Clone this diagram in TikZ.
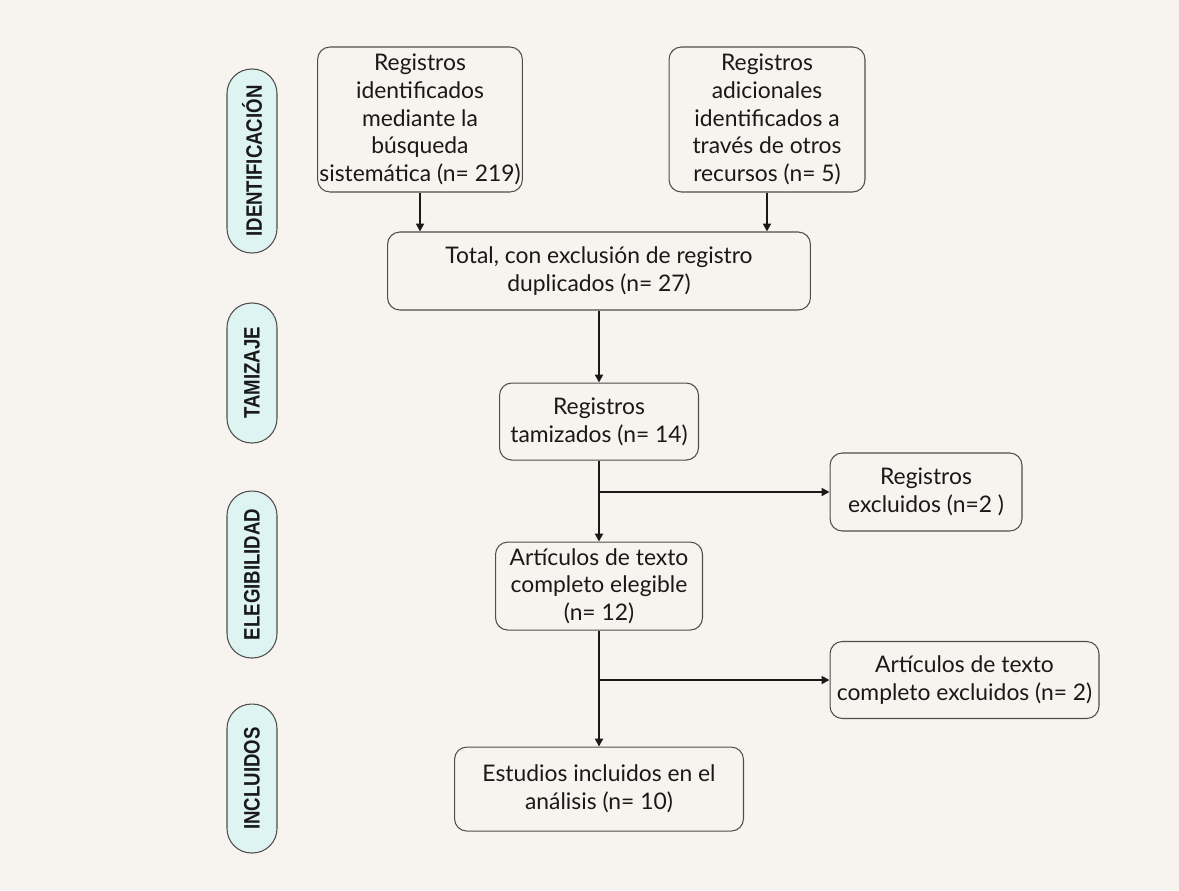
\documentclass[tikz,border=0pt]{standalone}
\usepackage{fontspec}
\setmainfont{Lato}
\newfontfamily\phasefamily{Liberation Sans}
\usepackage{tikz}
\usetikzlibrary{arrows.meta, positioning, calc}
\definecolor{mybg}{RGB}{247,243,238}
\definecolor{mydark}{RGB}{25,25,25}
\definecolor{myborder}{RGB}{80,76,74}
\definecolor{hdrcyan}{RGB}{222,244,242}
\newcommand{\phasetext}[1]{\scalebox{1}[1.2]{#1}}
\tikzset{
  box/.style={rectangle, draw=myborder, fill=mybg, align=center,
    font=\fontsize{13}{15.8}\selectfont, text=mydark,
    rounded corners=7pt, line width=0.6pt, inner sep=1pt},
  phase/.style={rectangle, draw=myborder, fill=hdrcyan, rotate=90,
    minimum height=1cm, rounded corners=0.49cm, line width=0.6pt,
    font=\phasefamily\bfseries\fontsize{10.6}{12}\selectfont, text=mydark},
  arrow/.style={-{Triangle[length=4.5pt,width=4.5pt]}, line width=1.1pt, color=mydark},
  line/.style={line width=1.1pt, color=mydark}
}

\begin{document}
\begin{tikzpicture}[x=0.02cm, y=-0.02cm, node distance=1.5cm]
\fill[mybg] (0,0) rectangle (1179,890);
\useasboundingbox (0,0) rectangle (1179,890);

\node[phase, minimum width=3.68cm] (ident) at (252,161) {\phasetext{IDENTIFICACIÓN}};
\node[phase, minimum width=2.8cm] (tamizaje) at (252,373) {\phasetext{TAMIZAJE}};
\node[phase, minimum width=3.34cm] (elegib) at (252,574.5) {\phasetext{ELEGIBILIDAD}};
\node[phase, minimum width=2.98cm] (incluidos) at (252,778.5) {\phasetext{INCLUIDOS}};

\node[box, minimum width=4.04cm, minimum height=2.9cm] (busqueda) at (420,119.5)
  {Registros\\identificados\\mediante la\\búsqueda\\sistemática (n= 219)};
\node[box, minimum width=3.92cm, minimum height=2.9cm] (otros) at (767,119.5)
  {Registros\\adicionales\\identificados a\\través de otros\\recursos (n= 5)};
\node[box, minimum width=8.46cm, minimum height=1.56cm] (total) at (599,271)
  {Total, con exclusión de registro\\duplicados (n= 27)};
\node[box, minimum width=3.98cm, minimum height=1.54cm, below=1.44cm of total] (tamiz)
  {Registros\\tamizados (n= 14)};
\node[box, minimum width=4.14cm, minimum height=1.76cm, below=1.62cm of tamiz] (eleg)
  {Artículos de texto\\completo elegible\\(n= 12)};
\node[box, minimum width=5.78cm, minimum height=1.68cm, below=2.32cm of eleg] (incl)
  {Estudios incluidos en el\\análisis (n= 10)};
\node[box, minimum width=3.84cm, minimum height=1.56cm] (excl1) at (926,492)
  {Registros\\excluidos (n=2 )};
\node[box, minimum width=5.38cm, minimum height=1.54cm] (excl2) at (964.5,680)
  {Artículos de texto\\completo excluidos (n= 2)};

\coordinate (br1) at (tamiz.south |- excl1.west);
\coordinate (br2) at (eleg.south |- excl2.west);

\draw[arrow] (busqueda) -- (busqueda |- total.north);
\draw[arrow] (otros) -- (otros |- total.north);
\draw[arrow] (total) -- (tamiz);
\draw[arrow] (tamiz) -- (eleg);
\draw[arrow] (br1) -- (excl1);
\draw[arrow] (eleg) -- (incl);
\draw[arrow] (br2) -- (excl2);
\end{tikzpicture}
\end{document}
